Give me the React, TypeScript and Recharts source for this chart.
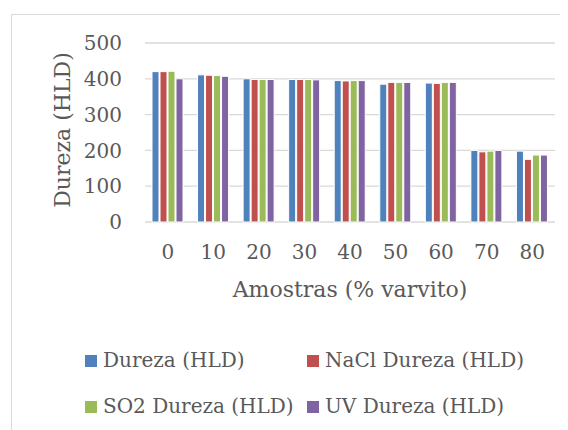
import { BarChart, Bar, XAxis, YAxis, CartesianGrid } from "recharts";

const FONT = "'DejaVu Serif', serif";
const TEXT = "#595959";

const samples = ["0", "10", "20", "30", "40", "50", "60", "70", "80"];
const dureza = [420, 411, 400, 398, 395, 385, 388, 200, 198];
const nacl = [420, 410, 398, 398, 394, 390, 387, 196, 175];
const so2 = [421, 409, 398, 398, 395, 390, 390, 198, 187];
const uv = [400, 407, 398, 397, 395, 390, 390, 200, 187];
const yTicks = [0, 100, 200, 300, 400, 500];

const SERIES = [
    { key: "dureza", name: "Dureza (HLD)", color: "#4f81bd" },
    { key: "nacl", name: "NaCl Dureza (HLD)", color: "#c0504d" },
    { key: "so2", name: "SO2 Dureza (HLD)", color: "#9bbb59" },
    { key: "uv", name: "UV Dureza (HLD)", color: "#8064a2" },
];

const data = samples.map((s, i) => ({
    sample: s,
    dureza: dureza[i],
    nacl: nacl[i],
    so2: so2[i],
    uv: uv[i],
}));

// y axis title, rotated
function YTitle() {
    return (
        <text x={54} y={122} transform="rotate(-90, 54, 122)" textAnchor="middle" dominantBaseline="central"
            fill={TEXT} fontSize={22} fontFamily={FONT}>
            Dureza (HLD)
        </text>
    );
}

function LegendBox() {
    const cols = [77, 299];
    const rows = [341, 387];
    return (
        <>
            {SERIES.map((s, i) => (
                <div key={s.key} style={{
                    position: "absolute", left: cols[i % 2], top: rows[Math.floor(i / 2)],
                    display: "flex", alignItems: "center", fontFamily: FONT, fontSize: 20, color: TEXT,
                    whiteSpace: "nowrap", lineHeight: "22px"
                }}>
                    <span style={{ width: 12, height: 12, background: s.color, marginRight: 6, marginTop: 2 }} />
                    {s.name}
                </div>
            ))}
        </>
    );
}

export default function App() {
    return (
        <div style={{ position: "relative", width: 560, height: 422, overflow: "hidden" }}>
            <div style={{
                position: "absolute", left: 3, top: 6, width: 700, height: 600,
                borderTop: "1px solid #d9d9d9", borderLeft: "1px solid #d9d9d9"
            }} />
            <BarChart width={560} height={422} data={data}
                margin={{ top: 35, right: 13, left: 0, bottom: 128 }}
                barCategoryGap={7} barGap={1} style={{ fontFamily: FONT }}>
                <CartesianGrid vertical={false} stroke="#d9d9d9" strokeWidth={1.3} />
                <XAxis dataKey="sample" axisLine={false} tickLine={false} tickSize={0} tickMargin={23} height={80}
                    tick={{ fill: TEXT, fontSize: 20, fontFamily: FONT }} interval={0}
                    label={{ value: "Amostras (% varvito)", position: "insideBottom", offset: 5, fill: TEXT, fontSize: 22, fontFamily: FONT }} />
                <YAxis domain={[0, 500]} ticks={yTicks} axisLine={false} tickLine={false} tickSize={0} tickMargin={23} width={137}
                    tick={{ fill: TEXT, fontSize: 20, fontFamily: FONT }} label={<YTitle />} />
                {SERIES.map((s) => (
                    <Bar key={s.key} dataKey={s.key} name={s.name} fill={s.color} stroke="#ffffff" strokeWidth={1}
                        isAnimationActive={false} />
                ))}
            </BarChart>
            <LegendBox />
        </div>
    );
}
